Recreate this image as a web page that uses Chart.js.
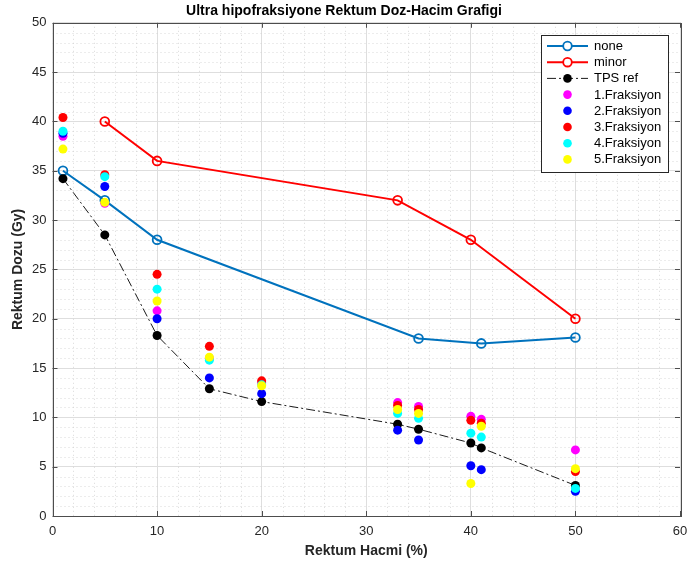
<!DOCTYPE html>
<html lang="tr">
<head>
<meta charset="UTF-8">
<title>Ultra hipofraksiyone Rektum Doz-Hacim Grafigi</title>
<style>
  html, body { margin: 0; padding: 0; background: #fff; }
  #wrap { width: 688px; height: 572px; }
</style>
<script src="https://cdn.jsdelivr.net/npm/chart.js"></script>
</head>
<body>
<div id="wrap"><canvas id="dvh" width="688" height="572"></canvas></div>
<script>
// rektum hacmi (%) noktalari
var noneX = [1, 5, 10, 35, 41, 50];
var noneY = [35, 32, 28, 18, 17.5, 18.1];
var minorX = [5, 10, 33, 40, 50];
var minorY = [40, 36, 32, 28, 20];

// TPS referansi ve fraksiyon olcumleri ayni hacim noktalarinda
var volX = [1, 5, 10, 15, 20, 33, 35, 40, 41, 50];
var tpsRef = [34.2, 28.5, 18.3, 12.9, 11.6, 9.3, 8.8, 7.4, 6.9, 3.1];
var frak1 = [38.5, 31.7, 20.8, 16.0, 13.5, 11.5, 11.1, 10.1, 9.8, 6.7];
var frak2 = [38.8, 33.4, 20.0, 14.0, 12.4, 8.7, 7.7, 5.1, 4.7, 2.5];
var frak3 = [40.4, 34.6, 24.5, 17.2, 13.7, 11.2, 10.8, 9.7, 9.4, 4.5];
var frak4 = [39.0, 34.4, 23.0, 15.8, 13.3, 10.4, 9.9, 8.4, 8.0, 2.8];
var frak5 = [37.2, 31.8, 21.8, 16.1, 13.2, 10.8, 10.4, 3.3, 9.1, 4.8];

var xTicks = [0, 10, 20, 30, 40, 50, 60];
var yTicks = [0, 5, 10, 15, 20, 25, 30, 35, 40, 45, 50];

function pts(xs, ys) {
  var out = [];
  for (var i = 0; i < xs.length; i++) out.push({ x: xs[i], y: ys[i] });
  return out;
}

function lineSet(label, xs, ys, color, order) {
  return {
    label: label,
    data: pts(xs, ys),
    showLine: true,
    borderColor: color,
    borderWidth: 2,
    backgroundColor: 'rgba(0,0,0,0)',
    pointBackgroundColor: 'rgba(0,0,0,0)',
    pointBorderColor: color,
    pointBorderWidth: 1.8,
    pointRadius: 4.4,
    order: order
  };
}

function dotSet(label, ys, color, order) {
  return {
    label: label,
    data: pts(volX, ys),
    showLine: false,
    backgroundColor: color,
    pointBackgroundColor: color,
    pointBorderWidth: 0,
    pointRadius: 4.5,
    order: order
  };
}

var tpsSet = dotSet('TPS ref', tpsRef, '#000000', 6);
tpsSet.showLine = true;
tpsSet.borderColor = '#000000';
tpsSet.borderWidth = 0.9;
tpsSet.borderDash = [9, 3, 2, 3];

var datasets = [
  lineSet('none', noneX, noneY, '#0072BD', 8),
  lineSet('minor', minorX, minorY, '#FF0000', 7),
  tpsSet,
  dotSet('1.Fraksiyon', frak1, '#FF00FF', 5),
  dotSet('2.Fraksiyon', frak2, '#0000FF', 4),
  dotSet('3.Fraksiyon', frak3, '#FF0000', 3),
  dotSet('4.Fraksiyon', frak4, '#00FFFF', 2),
  dotSet('5.Fraksiyon', frak5, '#FFFF00', 1)
];

// ince noktali ara izgara
var minorGrid = {
  id: 'minorGrid',
  beforeDatasetsDraw: function (chart) {
    var ctx = chart.ctx, a = chart.chartArea;
    var xs = chart.scales.x, ys = chart.scales.y;
    ctx.save();
    ctx.strokeStyle = '#cfcfcf';
    ctx.lineWidth = 0.8;
    ctx.setLineDash([1, 3]);
    for (var v = 2; v < 60; v += 2) {
      if (v % 10 === 0) continue;
      var px = Math.round(xs.getPixelForValue(v)) + 0.5;
      ctx.beginPath(); ctx.moveTo(px, a.top); ctx.lineTo(px, a.bottom); ctx.stroke();
    }
    for (var w = 1; w < 50; w++) {
      if (w % 5 === 0) continue;
      var py = Math.round(ys.getPixelForValue(w)) + 0.5;
      ctx.beginPath(); ctx.moveTo(a.left, py); ctx.lineTo(a.right, py); ctx.stroke();
    }
    ctx.restore();
  }
};

// cerceve ve iceri dogru tik isaretleri
var frame = {
  id: 'frame',
  afterDatasetsDraw: function (chart) {
    var ctx = chart.ctx, a = chart.chartArea;
    var xs = chart.scales.x, ys = chart.scales.y;
    ctx.save();
    ctx.strokeStyle = '#4d4d4d';
    ctx.lineWidth = 1;
    ctx.strokeRect(Math.round(a.left) + 0.5, Math.round(a.top) + 0.5,
      Math.round(a.right - a.left), Math.round(a.bottom - a.top));
    xTicks.forEach(function (v) {
      var px = Math.round(xs.getPixelForValue(v)) + 0.5;
      ctx.beginPath();
      ctx.moveTo(px, a.bottom); ctx.lineTo(px, a.bottom - 5);
      ctx.moveTo(px, a.top); ctx.lineTo(px, a.top + 5);
      ctx.stroke();
    });
    yTicks.forEach(function (v) {
      var py = Math.round(ys.getPixelForValue(v)) + 0.5;
      ctx.beginPath();
      ctx.moveTo(a.left, py); ctx.lineTo(a.left + 5, py);
      ctx.moveTo(a.right, py); ctx.lineTo(a.right - 5, py);
      ctx.stroke();
    });
    ctx.restore();
  }
};

// sag ustte kutulu lejant
var boxLegend = {
  id: 'boxLegend',
  afterDraw: function (chart) {
    var ctx = chart.ctx;
    var x0 = 541, y0 = 35, w = 127, h = 137;
    ctx.save();
    ctx.fillStyle = '#ffffff';
    ctx.fillRect(x0, y0, w, h);
    ctx.strokeStyle = '#262626';
    ctx.lineWidth = 1;
    ctx.strokeRect(x0 + 0.5, y0 + 0.5, w, h);
    ctx.font = '13px "Liberation Sans", Arial, sans-serif';
    ctx.textBaseline = 'middle';
    chart.data.datasets.forEach(function (ds, i) {
      var y = 46 + i * 16.2;
      if (ds.showLine) {
        ctx.strokeStyle = ds.borderColor;
        ctx.lineWidth = ds.borderWidth;
        ctx.setLineDash(ds.borderDash || []);
        ctx.beginPath(); ctx.moveTo(547, y); ctx.lineTo(588, y); ctx.stroke();
        ctx.setLineDash([]);
      }
      ctx.beginPath();
      ctx.arc(567.5, y, 4.3, 0, Math.PI * 2);
      if (ds.pointBorderWidth > 0) {
        ctx.fillStyle = '#ffffff';
        ctx.fill();
        ctx.strokeStyle = ds.pointBorderColor;
        ctx.lineWidth = ds.pointBorderWidth;
        ctx.stroke();
      } else {
        ctx.fillStyle = ds.pointBackgroundColor;
        ctx.fill();
      }
      ctx.fillStyle = '#000000';
      ctx.fillText(ds.label, 594, y + 0.5);
    });
    ctx.restore();
  }
};

var tickFont = { family: '"Liberation Sans", Arial, sans-serif', size: 13 };
var titleFont = { family: '"Liberation Sans", Arial, sans-serif', size: 14, weight: 'bold' };

new Chart(document.getElementById('dvh'), {
  type: 'scatter',
  data: { datasets: datasets },
  options: {
    responsive: false,
    animation: false,
    plugins: {
      legend: { display: false },
      tooltip: { enabled: false },
      title: {
        display: true,
        text: 'Ultra hipofraksiyone Rektum Doz-Hacim Grafigi',
        color: '#000000',
        font: titleFont,
        padding: { top: 3, bottom: 3 }
      }
    },
    scales: {
      x: {
        type: 'linear',
        min: 0, max: 60,
        afterFit: function (s) { s.height = 56; s.paddingRight = 8; },
        afterBuildTicks: function (s) { s.ticks = xTicks.map(function (v) { return { value: v }; }); },
        ticks: { color: '#262626', font: tickFont, padding: 8 },
        grid: { color: '#dedede', lineWidth: 1, drawTicks: false },
        border: { display: false },
        title: {
          display: true, text: 'Rektum Hacmi (%)', color: '#262626',
          font: titleFont, padding: { top: 0, bottom: 12.6 }
        }
      },
      y: {
        type: 'linear',
        min: 0, max: 50,
        afterFit: function (s) { s.width = 52.5; },
        afterBuildTicks: function (s) { s.ticks = yTicks.map(function (v) { return { value: v }; }); },
        ticks: { color: '#262626', font: tickFont, padding: 6 },
        grid: { color: '#dedede', lineWidth: 1, drawTicks: false },
        border: { display: false },
        title: {
          display: true, text: 'Rektum Dozu (Gy)', color: '#262626',
          font: titleFont, padding: { top: 10, bottom: 0 }
        }
      }
    }
  },
  plugins: [minorGrid, frame, boxLegend]
});
</script>
</body>
</html>
